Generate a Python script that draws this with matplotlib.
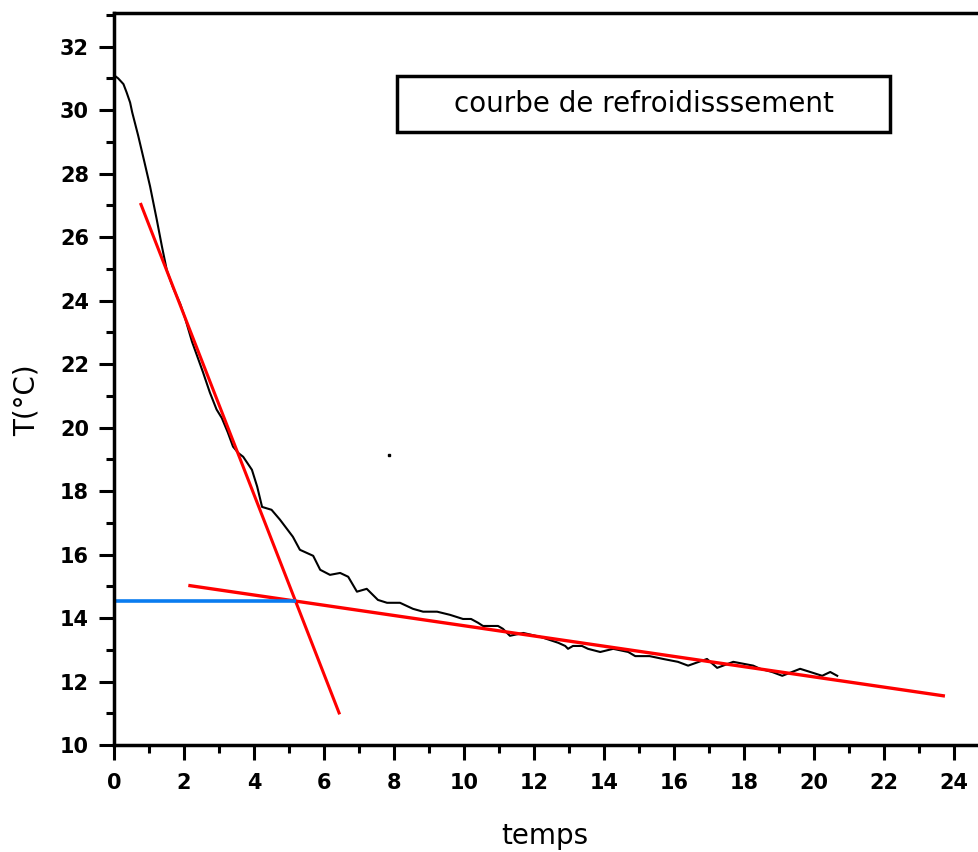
import matplotlib.pyplot as plt
from matplotlib.patches import Rectangle
from matplotlib.ticker import MultipleLocator

# cooling curve (temps, T in °C)
t = [0, 0.12, 0.27, 0.36, 0.46, 0.52, 0.69, 0.87, 1.03, 1.22, 1.37, 1.51,
     1.69, 1.89, 2.03, 2.23, 2.54, 2.74, 2.93, 3.08, 3.25, 3.4,
     3.55, 3.69, 3.94, 4.09, 4.23, 4.5, 4.74, 5.11, 5.31, 5.69,
     5.89, 6.17, 6.46, 6.69, 6.94, 7.22, 7.54, 7.8, 8.17, 8.54,
     8.83, 9.23, 9.6, 9.97, 10.2, 10.4, 10.54, 10.97, 11.11, 11.31,
     11.69, 12.2, 12.69, 12.89, 12.97, 13.11, 13.37, 13.54, 13.89, 14.26,
     14.69, 14.89, 15.3, 15.69, 16.11, 16.4, 16.94, 17.23, 17.69, 18.26,
     18.46, 18.8, 19.09, 19.6, 19.89, 20.23, 20.46, 20.66]
T = [31.1, 31.0, 30.82, 30.56, 30.24, 29.93, 29.2, 28.36, 27.6, 26.56, 25.7, 24.95,
     24.4, 23.9, 23.45, 22.7, 21.75, 21.1, 20.57, 20.3, 19.85, 19.4,
     19.2, 19.08, 18.67, 18.14, 17.5, 17.41, 17.1, 16.56, 16.15, 15.96,
     15.52, 15.36, 15.42, 15.3, 14.83, 14.92, 14.57, 14.48, 14.48, 14.29,
     14.2, 14.2, 14.1, 13.97, 13.97, 13.85, 13.75, 13.75, 13.66, 13.44,
     13.53, 13.4, 13.22, 13.12, 13.03, 13.12, 13.12, 13.03, 12.93, 13.03,
     12.93, 12.8, 12.8, 12.71, 12.62, 12.5, 12.71, 12.43, 12.62, 12.5,
     12.4, 12.3, 12.18, 12.4, 12.3, 12.18, 12.3, 12.18]

# stray point
stray_t = [7.86]
stray_T = [19.15]

# tangent lines (red) and the level line (blue)
tan1_t = [0.77, 6.43]
tan1_T = [27.03, 11.01]
tan2_t = [2.17, 23.69]
tan2_T = [15.02, 11.55]
level_t = [0, 5.19]
level_T = [14.55, 14.55]

fig = plt.figure(figsize=(9.79, 8.52), dpi=100)
ax = fig.add_axes([114/979, 1 - 745/852, 865/979, 732/852])

ax.plot(t, T, color='black', lw=1.5)
ax.plot(stray_t, stray_T, 's', color='black', ms=2)
ax.plot(tan1_t, tan1_T, color='#ff0000', lw=2.2)
ax.plot(tan2_t, tan2_T, color='#ff0000', lw=2.4)
ax.plot(level_t, level_T, color='#0a7cf0', lw=2.6, solid_capstyle='butt')

ax.set_xlim(0, 24.71)
ax.set_ylim(10, 33.06)

ax.xaxis.set_major_locator(MultipleLocator(2))
ax.xaxis.set_minor_locator(MultipleLocator(1))
ax.yaxis.set_major_locator(MultipleLocator(2))
ax.yaxis.set_minor_locator(MultipleLocator(1))

ax.spines['right'].set_visible(False)
for s in ['left', 'bottom', 'top']:
    ax.spines[s].set_linewidth(2.5)

ax.tick_params(which='major', length=11, width=2.2, labelsize=15, pad=7)
ax.tick_params(which='minor', length=5.5, width=2.2)
ax.tick_params(axis='x', which='major', pad=9)
for lab in ax.get_xticklabels() + ax.get_yticklabels():
    lab.set_fontweight('bold')

fig.text(27/979, 1 - 400/852, 'T(°C)', rotation=90, ha='center', va='center', fontsize=20)
fig.text(545/979, 1 - 836/852, 'temps', ha='center', va='center', fontsize=20)

fig.add_artist(Rectangle((397/979, 1 - 132/852), 493/979, 56/852,
                         transform=fig.transFigure, fill=False, lw=2.5, color='black'))
fig.text(644/979, 1 - 104/852, 'courbe de refroidisssement', ha='center', va='center', fontsize=20)

fig.savefig('out.png', dpi=100)
